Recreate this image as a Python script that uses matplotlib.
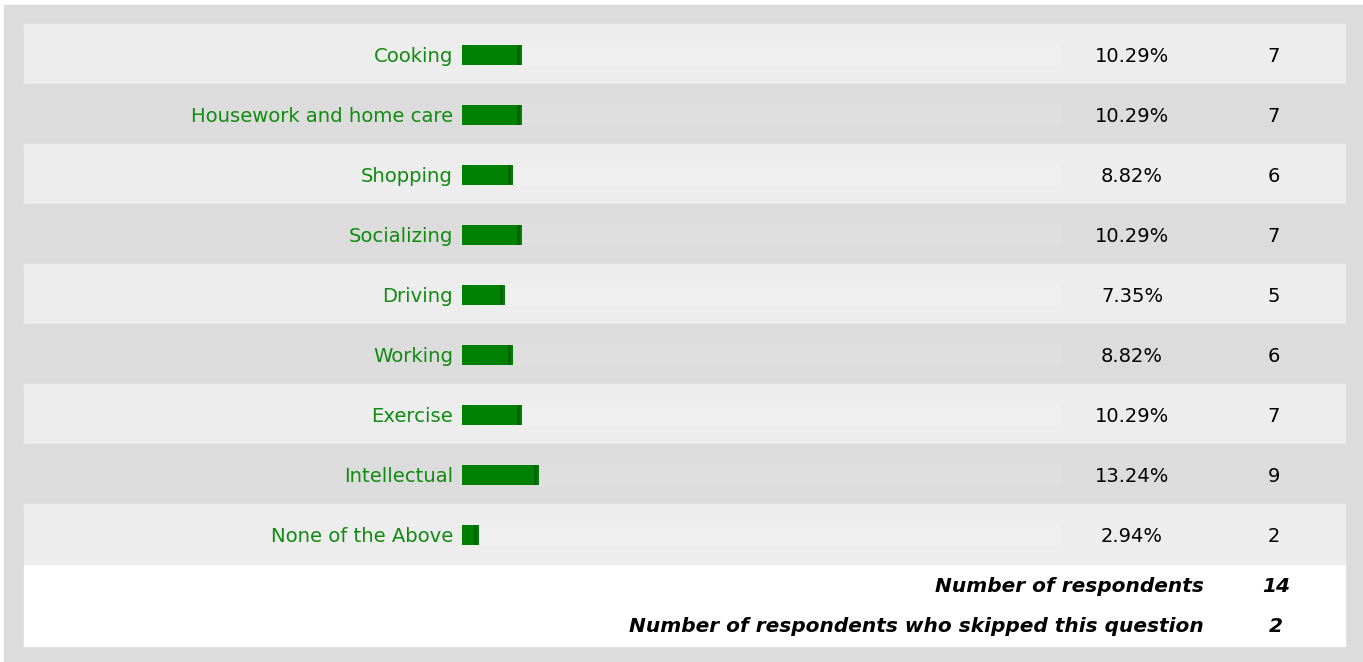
import matplotlib
matplotlib.use("Agg")
import matplotlib.pyplot as plt
from matplotlib.patches import Rectangle

# Survey answers
categories = ["Cooking", "Housework and home care", "Shopping", "Socializing",
              "Driving", "Working", "Exercise", "Intellectual", "None of the Above"]
percents = [10.29, 10.29, 8.82, 10.29, 7.35, 8.82, 10.29, 13.24, 2.94]
counts = [7, 7, 6, 7, 5, 6, 7, 9, 2]
respondents = 14
skipped = 2

W, H = 1363, 662
fig = plt.figure(figsize=(W / 100, H / 100), dpi=100)
ax = fig.add_axes([0, 0, 1, 1])
ax.set_xlim(0, W)
ax.set_ylim(H, 0)
ax.axis("off")

# frame and background
ax.add_patch(Rectangle((4, 5), W - 4, H - 5, color="#dcdcdc", zorder=0))
ax.add_patch(Rectangle((24, 564), 1321, 82, color="white", zorder=1))

row_top, row_h = 24, 60
bar_left, px_per_pct = 462, 5.83
track_w = 598
green = "#008000"
text_green = "#118a11"

for i, (cat, pct, cnt) in enumerate(zip(categories, percents, counts)):
    y0 = row_top + i * row_h
    yc = y0 + row_h / 2
    ax.add_patch(Rectangle((24, y0), 1321, row_h,
                           color="#ededed" if i % 2 == 0 else "#dcdcdc", zorder=1))
    # faint track behind each bar
    ax.add_patch(Rectangle((bar_left, yc - 10), track_w, 21,
                           color="#efefef" if i % 2 == 0 else "#dfdfdf", zorder=2))
    ax.text(453, yc + 2, cat, ha="right", va="center", color=text_green,
            fontsize=14.1, fontfamily="DejaVu Sans", zorder=4)
    ax.text(1132, yc + 2, f"{pct:.2f}%", ha="center", va="center", color="black",
            fontsize=14, fontfamily="DejaVu Sans", zorder=4)
    ax.text(1274, yc + 2, str(cnt), ha="center", va="center", color="black",
            fontsize=14, fontfamily="DejaVu Sans", zorder=4)

ys = [row_top + i * row_h + row_h / 2 + 1 for i in range(len(categories))]
widths = [p * px_per_pct for p in percents]
ax.barh(ys, widths, left=bar_left, height=20, color=green, zorder=3)
# darker sliver near the bar ends
ax.barh(ys, [3] * len(ys), left=[bar_left + w - 5 for w in widths], height=20,
        color="#006400", zorder=3)

foot = dict(ha="right", va="center", color="black", fontsize=14.5,
            fontweight="bold", fontstyle="italic", fontfamily="DejaVu Sans", zorder=4)
ax.text(1204, 587, "Number of respondents", **foot)
ax.text(1204, 627, "Number of respondents who skipped this question", **foot)
ax.text(1276, 587, str(respondents), ha="center", va="center", color="black",
        fontsize=14.5, fontweight="bold", fontstyle="italic", zorder=4)
ax.text(1276, 627, str(skipped), ha="center", va="center", color="black",
        fontsize=14.5, fontweight="bold", fontstyle="italic", zorder=4)

fig.savefig("out.png", dpi=100)
